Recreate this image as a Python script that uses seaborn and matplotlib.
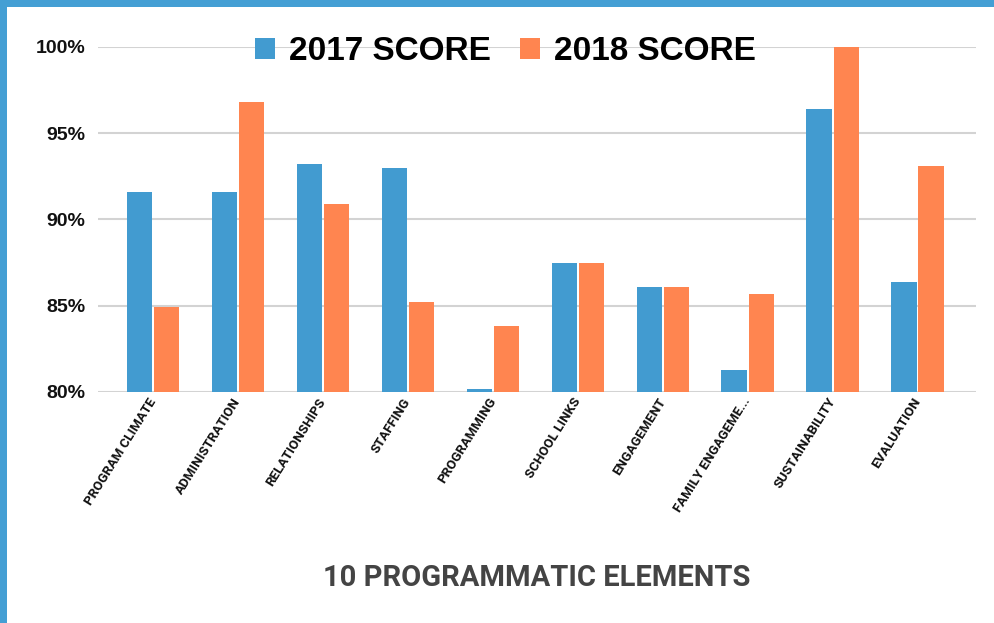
import matplotlib
matplotlib.use("Agg")
import matplotlib.pyplot as plt
import seaborn as sns
import pandas as pd
from matplotlib.patches import Patch, Rectangle

categories = ["PROGRAM CLIMATE", "ADMINISTRATION", "RELATIONSHIPS", "STAFFING",
              "PROGRAMMING", "SCHOOL LINKS", "ENGAGEMENT", "FAMILY ENGAGEME...",
              "SUSTAINABILITY", "EVALUATION"]
score_2017 = [91.6, 91.6, 93.2, 93.0, 80.2, 87.5, 86.1, 81.3, 96.4, 86.4]
score_2018 = [84.9, 96.8, 90.9, 85.2, 83.8, 87.5, 86.1, 85.7, 100.0, 93.1]
series_names = ["2017 SCORE", "2018 SCORE"]
y_ticks = [80, 85, 90, 95, 100]
x_title = "10 PROGRAMMATIC ELEMENTS"

colors = ["#429BD0", "#FF8550"]

df = pd.DataFrame({
    "element": categories * 2,
    "score": score_2017 + score_2018,
    "series": [series_names[0]] * len(categories) + [series_names[1]] * len(categories),
})

sns.set_theme(style="white")
fig = plt.figure(figsize=(9.95, 6.23), dpi=100)
ax = fig.add_axes([0.0985, 0.3708, 0.8825, 0.5538])

sns.barplot(data=df, x="element", y="score", hue="series", order=categories,
            hue_order=series_names, palette=colors, width=0.64, gap=0.07,
            saturation=1, ax=ax, legend=False, linewidth=0)

ax.set_ylim(80, 100)
ax.set_xlim(-0.65, 9.69)
ax.set_yticks(y_ticks)
ax.set_yticklabels([f"{v}%" for v in y_ticks], fontsize=14, fontweight="bold",
                   family="Liberation Sans", color="#111111")
ax.grid(axis="y", color="#d3d3d3", linewidth=1.5)
ax.set_axisbelow(True)
for s in ax.spines.values():
    s.set_visible(False)
ax.tick_params(axis="y", length=0, pad=9)
ax.tick_params(axis="x", length=0, pad=5)
ax.set_xticks(range(len(categories)))
ax.set_xticklabels(categories, rotation=58, ha="right", va="center",
                   rotation_mode="anchor", fontsize=9.5, fontweight="bold",
                   family="Roboto", color="#111111")
ax.set_ylabel("")
ax.set_xlabel("")

fig.text(0.539, 1 - 578 / 623, x_title, ha="center", va="center", fontsize=21,
         fontweight="bold", family="Roboto", color="#444444")

handles = [Patch(facecolor=c, edgecolor="none") for c in colors]
leg = fig.legend(handles, series_names, loc="center", bbox_to_anchor=(0.508, 0.917),
                 ncol=2, frameon=False, handlelength=0.6, handleheight=0.6,
                 handletextpad=0.42, columnspacing=0.85,
                 prop={"family": "Liberation Sans", "weight": "bold", "size": 24})
for t in leg.get_texts():
    t.set_color("#000000")

# blue frame border (top and left)
fig.patches.append(Rectangle((0, 1 - 7 / 623), 1, 7 / 623, transform=fig.transFigure,
                             facecolor="#449FD4", edgecolor="none", zorder=10))
fig.patches.append(Rectangle((0, 0), 7 / 995, 1, transform=fig.transFigure,
                             facecolor="#449FD4", edgecolor="none", zorder=10))

fig.savefig("out.png", dpi=100, facecolor="white")
